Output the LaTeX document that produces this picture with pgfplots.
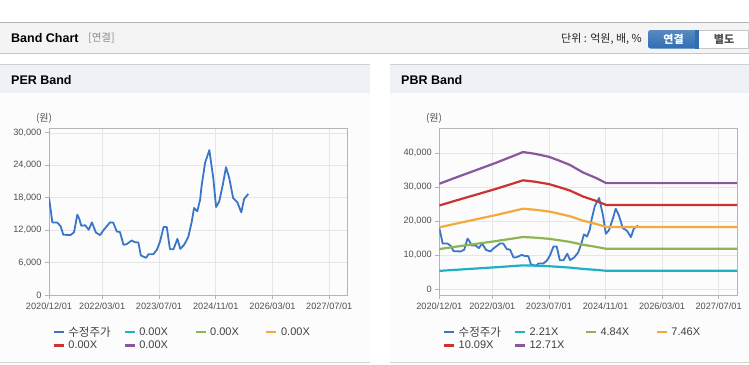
\documentclass[border=0pt]{standalone}
\usepackage{pgfplots}
\usepackage{pgfplotstable}
\pgfplotsset{compat=1.18}
\usepackage{fontspec}
\setmainfont{Liberation Sans}
\newfontfamily\kr{Noto Sans CJK KR}
\definecolor{cPrice}{HTML}{3A76C8}
\definecolor{cCyan}{HTML}{1EB1C4}
\definecolor{cGreen}{HTML}{8DB553}
\definecolor{cOrange}{HTML}{F2AA3C}
\definecolor{cRed}{HTML}{CC3232}
\definecolor{cPurple}{HTML}{8C569C}
\definecolor{axisgray}{HTML}{B4B4B4}
\definecolor{gridgray}{HTML}{E6E6E6}
\definecolor{labelgray}{HTML}{505050}
\definecolor{hdrbg}{HTML}{F4F4F4}
\definecolor{panelhdr}{HTML}{EEF2F7}
\definecolor{panelbg}{HTML}{FCFCFC}
\definecolor{btnblue}{HTML}{2F6DB3}

\pgfplotstableread{
m val
0 17960
0.47 15790
0.94 13440
2.35 13400
3.29 12690
4.04 11150
6.1 11100
7.05 11600
7.98 14860
8.46 14240
9.1 12820
10.2 12900
11.2 12070
12.1 13440
13.2 11580
14.4 11080
15.3 11950
17.2 13440
18.1 13400
19.1 11760
20.0 11650
21.0 9290
21.9 9400
23.3 10090
24.1 9800
25.2 9700
25.9 7310
27.4 6870
28.0 7530
29.4 7530
30.4 8360
31.3 9900
32.3 12570
33.2 12570
34.1 8480
35.1 8480
36.2 10400
37.0 8540
38.1 9290
39.0 10400
39.3 10840
40.2 13440
40.9 16100
41.8 15480
42.6 17650
43.0 20120
44.0 24460
45.2 26810
46.3 21670
47.1 16280
48.0 17340
49.0 20430
49.9 23650
50.8 21670
51.9 17960
53.1 17150
54.2 15290
55.0 17770
56.2 18700
}\price

\pgfplotstableread{
m b221 b484 b746 b1009 b1271
0 5386 11795 18180 24589 30974
4 5658 12390 19098 25830 32538
8 5923 12971 19993 27041 34063
12 6188 13552 20888 28252 35588
16 6453 14133 21783 29463 37113
20 6741 14762 22753 30775 38766
23.7 7006 15343 23648 31985 40291
27 6917 15149 23350 31582 39782
31 6763 14810 22828 30875 38893
34 6561 14370 22149 29957 37736
37 6343 13891 21410 28958 36478
40.6 5967 13068 20142 27243 34317
44.4 5675 12429 19157 25911 32639
47.2 5419 11868 18292 24741 31165
84.2 5419 11868 18292 24741 31165
}\bands

\pgfplotsset{bandaxis/.style={
  scale only axis, anchor=south west,
  scaled y ticks=false,
  xmin=0, xmax=84.2,
  xtick={0,15,31,47,63,79},
  xticklabels={2020/12/01,2022/03/01,2023/07/01,2024/11/01,2026/03/01,2027/07/01},
  tick align=outside, xtick pos=bottom, ytick pos=left, major tick length=4pt,
  tick style={draw=axisgray, line width=0.8pt},
  axis line style={draw=axisgray, line width=0.9pt},
  grid=major, grid style={draw=gridgray, line width=0.6pt},
  tick label style={font=\fontsize{9.2}{10}\selectfont, text=labelgray},
  legend columns=4,
  legend cell align=left,
  legend style={draw=none, fill=none, inner sep=0pt, outer sep=0pt,
    at={(axis description cs:0,0)}, anchor=north west, xshift=3.5pt, yshift=-29.5pt,
    font=\fontsize{11}{12}\selectfont, text=black!75,
    row sep=-0.5pt,
    /tikz/every odd column/.append style={column sep=1.5pt},
    /tikz/every even column/.append style={column sep=0pt}},
}}
\newcommand{\lt}[1]{\makebox[53pt][l]{\fontsize{11}{12}\selectfont #1}}
\newcommand{\lk}[1]{\makebox[53pt][l]{\kr\fontsize{11.5}{12}\selectfont #1}}

\begin{document}
\begin{tikzpicture}
% page background
\fill[white] (0,0) rectangle (749pt,-364pt);
% top header
\fill[hdrbg] (0,-22.7pt) rectangle (749pt,-53.3pt);
\draw[draw=axisgray, line width=1pt] (0,-22.7pt) -- (749pt,-22.7pt);
\draw[draw=black!22, line width=1.4pt] (0,-53.6pt) -- (749pt,-53.6pt);
\node[anchor=west, inner sep=0pt, font=\bfseries\fontsize{12.5}{14}\selectfont] at (11pt,-38.5pt) {Band Chart};
\node[anchor=west, inner sep=0pt, text=black!45, font=\kr\fontsize{10.5}{12}\selectfont] at (88pt,-38.5pt) {[연결]};
\node[anchor=east, inner sep=0pt, text=black!85, font=\kr\fontsize{11}{12}\selectfont] at (642pt,-39pt) {단위 : 억원, 배, \%};
% buttons
\shade[top color=btnblue!80!white, bottom color=btnblue, rounded corners=2.5pt] (648pt,-30pt) rectangle (703pt,-48.5pt);
\fill[btnblue] (695pt,-30pt) rectangle (699pt,-48.5pt);
\fill[white] (699pt,-30pt) rectangle (749pt,-48.5pt);
\draw[draw=black!22] (699pt,-30pt) -- (749pt,-30pt);
\draw[draw=black!22] (699pt,-48.5pt) -- (749pt,-48.5pt);
\draw[draw=black!22] (748.5pt,-30pt) -- (748.5pt,-48.5pt);
\node[text=white, inner sep=0pt, font=\kr\bfseries\fontsize{11}{12}\selectfont] at (673.5pt,-39.3pt) {연결};
\node[text=black!70, inner sep=0pt, font=\kr\bfseries\fontsize{11}{12}\selectfont] at (724pt,-39.3pt) {별도};
% panels
\fill[panelbg] (0,-64.3pt) rectangle (370pt,-362.7pt);
\fill[panelbg] (390pt,-64.3pt) rectangle (749pt,-362.7pt);
\fill[panelhdr] (0,-64.3pt) rectangle (370pt,-92.7pt);
\fill[panelhdr] (390pt,-64.3pt) rectangle (749pt,-92.7pt);
\draw[draw=black!18, line width=1pt] (0,-64.3pt) -- (370pt,-64.3pt);
\draw[draw=black!18, line width=1pt] (390pt,-64.3pt) -- (749pt,-64.3pt);
\draw[draw=black!18, line width=1pt] (0,-362.7pt) -- (370pt,-362.7pt);
\draw[draw=black!18, line width=1pt] (390pt,-362.7pt) -- (749pt,-362.7pt);
\node[anchor=west, inner sep=0pt, font=\bfseries\fontsize{12.5}{14}\selectfont] at (11pt,-80pt) {PER Band};
\node[anchor=west, inner sep=0pt, font=\bfseries\fontsize{12.5}{14}\selectfont] at (401pt,-80pt) {PBR Band};
\node[inner sep=0pt, text=labelgray, font=\kr\fontsize{10}{11}\selectfont] at (44pt,-118pt) {(원)};
\node[inner sep=0pt, text=labelgray, font=\kr\fontsize{10}{11}\selectfont] at (434pt,-118pt) {(원)};

% PER axis
\begin{axis}[bandaxis, at={(49pt,-295pt)}, width=298.7pt, height=167pt,
  ymin=0, ymax=30900,
  ytick={0,6000,12000,18000,24000,30000},
  yticklabels={0,{6,000},{12,000},{18,000},{24,000},{30,000}},
  legend image code/.code={\draw[#1, line width=2.4pt] (0pt,0pt) -- (10pt,0pt);},
]
\addplot[cPrice, line width=1.8pt, line join=round] table[x=m, y=val] {\price};
\addlegendentry{\lk{수정주가}}
\addlegendimage{cCyan}
\addlegendentry{\lt{0.00X}}
\addlegendimage{cGreen}
\addlegendentry{\lt{0.00X}}
\addlegendimage{cOrange}
\addlegendentry{\lt{0.00X}}
\addlegendimage{cRed}
\addlegendentry{\lt{0.00X}}
\addlegendimage{cPurple}
\addlegendentry{\lt{0.00X}}
\end{axis}

% PBR axis
\begin{axis}[bandaxis, at={(439.3pt,-295pt)}, width=297.7pt, height=167pt,
  ymin=-1700, ymax=47350,
  ytick={0,10000,20000,30000,40000},
  yticklabels={0,{10,000},{20,000},{30,000},{40,000}},
  legend image code/.code={\draw[#1, line width=2.4pt] (0pt,0pt) -- (10pt,0pt);},
]
\addplot[cPrice, line width=1.8pt, line join=round] table[x=m, y=val] {\price};
\addlegendentry{\lk{수정주가}}
\addplot[cCyan, line width=2.2pt] table[x=m, y=b221] {\bands};
\addlegendentry{\lt{2.21X}}
\addplot[cGreen, line width=2.2pt] table[x=m, y=b484] {\bands};
\addlegendentry{\lt{4.84X}}
\addplot[cOrange, line width=2.2pt] table[x=m, y=b746] {\bands};
\addlegendentry{\lt{7.46X}}
\addplot[cRed, line width=2.2pt] table[x=m, y=b1009] {\bands};
\addlegendentry{\lt{10.09X}}
\addplot[cPurple, line width=2.2pt] table[x=m, y=b1271] {\bands};
\addlegendentry{\lt{12.71X}}
\end{axis}

\pgfresetboundingbox
\path[use as bounding box] (0,0) rectangle (749pt,-364pt);
\end{tikzpicture}
\end{document}
